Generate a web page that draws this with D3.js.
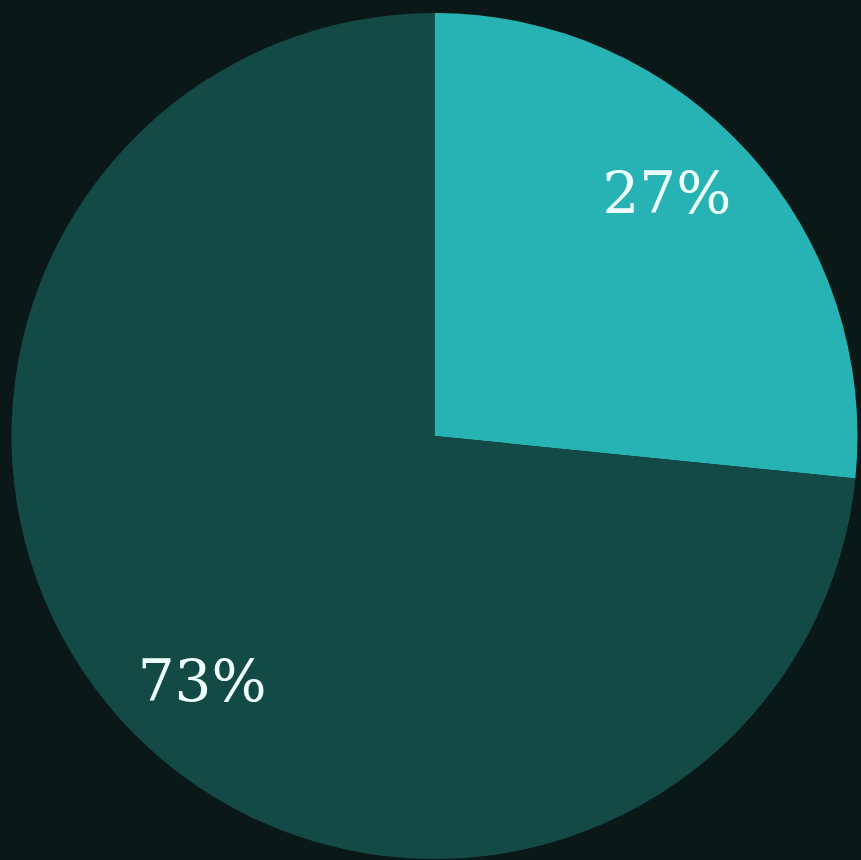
<!DOCTYPE html>
<html><head><meta charset="utf-8">
<script src="https://cdn.jsdelivr.net/npm/d3@7"></script>
<style>html,body{margin:0;padding:0;background:#0a1818;}</style>
</head><body>
<script>
const categories = ["A", "B"];
const values = [26.6, 73.4];
const labels = ["27%", "73%"];
const colors = ["#27b3b3", "#134a46"];

const W = 861, H = 860;
const cx = 434.5, cy = 436, R = 423;
const svg = d3.select("body").append("svg").attr("width", W).attr("height", H)
  .style("display", "block").style("background", "#0a1818");
const g = svg.append("g").attr("transform", `translate(${cx},${cy})`);
const data = categories.map((c, i) => ({c, v: values[i], label: labels[i], color: colors[i]}));
const pie = d3.pie().value(d => d.v).sort(null);
const arcs = pie(data);
const arc = d3.arc().innerRadius(0).outerRadius(R);
g.selectAll("path").data(arcs).join("path").attr("d", arc).attr("fill", d => d.data.color);
const shift = -0.075;
const labelArc = d3.arc().innerRadius(337).outerRadius(337);
g.selectAll("text").data(arcs).join("text")
  .attr("transform", d => {
    const c = labelArc.centroid({startAngle: d.startAngle + shift, endAngle: d.endAngle + shift});
    return `translate(${c[0]},${c[1]})`;
  })
  .attr("text-anchor", "middle").attr("dy", "0.36em")
  .style("font-family", "'DejaVu Serif', serif").style("font-size", "58px")
  .attr("fill", "#effffd").text(d => d.data.label);
</script>
</body></html>
